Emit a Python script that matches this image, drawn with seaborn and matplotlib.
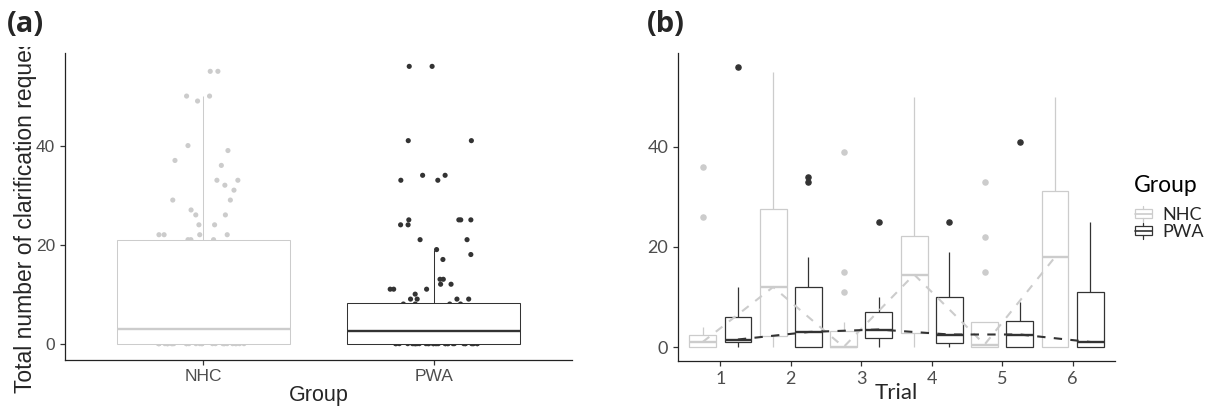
import numpy as np
import pandas as pd
import matplotlib
matplotlib.use("Agg")
import matplotlib.pyplot as plt
import seaborn as sns
from matplotlib.patches import Patch, Rectangle
from matplotlib.lines import Line2D
from matplotlib.legend_handler import HandlerBase
from matplotlib.transforms import Bbox, TransformedBbox

# ---- data -------------------------------------------------------------
groups = ["NHC", "PWA"]
trials = ["1", "2", "3", "4", "5", "6"]
group_colors = {"NHC": "#CCCCCC", "PWA": "#333333"}

# (a) clarification requests pooled over trials
nhc_total = ([0] * 28 + [1] * 7 + [2] * 7 + [3] * 9 +
             [4, 4, 5, 5, 6, 6, 7, 8, 8, 9, 10, 11, 12, 12, 13, 14, 15, 16, 17, 18, 19, 20] +
             [21, 21, 21, 22, 22, 22, 22, 24, 24, 26, 26, 27, 29, 29, 31, 32, 33, 33,
              36, 37, 39, 40, 49, 50, 50, 55, 55])
pwa_total = ([0] * 32 + [1] * 14 + [2] * 16 + [3] * 7 + [4] * 6 + [5] * 5 + [6] * 5 +
             [7] * 4 + [8] * 4 +
             [9, 9, 9, 9, 10, 11, 11, 11, 12, 12, 13, 13, 17, 18, 19, 21, 21, 24, 24,
              25, 25, 25, 25, 33, 33, 34, 34, 41, 41, 56, 56])

# (b) clarification requests per trial
nhc_trials = [
    [0, 0, 0, 0, 0, 0, 1, 1, 1, 1, 1, 2, 2, 2, 2, 4, 4, 4, 26, 36],
    [0, 0, 0, 0, 0, 3, 5, 7, 9, 11, 13, 16, 19, 22, 26, 32, 38, 44, 50, 55],
    [0, 0, 0, 0, 0, 0, 0, 0, 0, 0, 0, 1, 2, 3, 3, 4, 5, 11, 15, 39],
    [0, 0, 1, 2, 2, 3, 6, 9, 12, 14, 15, 17, 19, 21, 22, 23, 28, 35, 42, 50],
    [0, 0, 0, 0, 0, 0, 0, 0, 0, 0, 1, 1, 2, 3, 5, 5, 5, 15, 22, 33],
    [0, 0, 0, 0, 0, 0, 3, 7, 12, 17, 19, 22, 25, 28, 30, 35, 38, 42, 47, 50],
]
pwa_trials = [
    [0, 0, 0, 1, 1, 1, 1, 1, 1, 1, 2, 2, 3, 4, 6, 6, 8, 10, 12, 56],
    [0, 0, 0, 0, 0, 0, 1, 2, 2, 3, 3, 5, 7, 9, 12, 12, 15, 18, 33, 34],
    [0, 0, 1, 1, 1, 2, 2, 3, 3, 3, 4, 5, 5, 6, 7, 7, 8, 9, 10, 25],
    [0, 0, 0, 0, 0, 1, 1, 1, 2, 2, 3, 4, 6, 8, 10, 10, 13, 16, 19, 25],
    [0, 0, 0, 0, 0, 0, 1, 1, 2, 2, 3, 3, 4, 4, 5, 6, 7, 8, 9, 41],
    [0, 0, 0, 0, 0, 0, 0, 0, 1, 1, 1, 2, 4, 7, 11, 11, 14, 18, 21, 25],
]

# ---- tidy tables ------------------------------------------------------
df_a = pd.DataFrame({
    "Group": ["NHC"] * len(nhc_total) + ["PWA"] * len(pwa_total),
    "Total": nhc_total + pwa_total,
})
rows = []
for g, series in (("NHC", nhc_trials), ("PWA", pwa_trials)):
    for t, vals in zip(trials, series):
        rows += [(g, t, v) for v in vals]
df_b = pd.DataFrame(rows, columns=["Group", "Trial", "Count"])

# ---- style -----------------------------------------------------------
sns.set_style("ticks")
plt.rcParams["font.family"] = ["Liberation Sans", "DejaVu Sans"]
TICK_GREY = "#4D4D4D"
LATO = ["Lato", "DejaVu Sans"]
W, H = 1210, 407

fig = plt.figure(figsize=(W / 100, H / 100), dpi=100)
ax_a = fig.add_axes([65 / W, 1 - 359.5 / H, 507 / W, 306.5 / H])
ax_b = fig.add_axes([678 / W, 1 - 361 / H, 437 / W, 308 / H])

for ax in (ax_a, ax_b):
    for s in ("top", "right"):
        ax.spines[s].set_visible(False)
    for s in ("left", "bottom"):
        ax.spines[s].set_linewidth(0.9)
        ax.spines[s].set_color("#222222")
    ax.tick_params(length=3.5, width=0.9, color="#333333", labelcolor=TICK_GREY)

# ---- (a) pooled boxplots over jittered observations ------------------
np.random.seed(11)
sns.stripplot(data=df_a, x="Group", y="Total", hue="Group", order=groups,
              hue_order=groups, palette=group_colors, jitter=0.2, size=3.7,
              linewidth=0, legend=False, ax=ax_a)
for g in groups:
    sns.boxplot(data=df_a[df_a["Group"] == g], x="Group", y="Total", order=groups,
                color="white", linecolor=group_colors[g], width=0.75,
                showcaps=False, showfliers=False, linewidth=0.75,
                medianprops=dict(linewidth=1.7), ax=ax_a)
# opaque boxes sit above the points
for coll in ax_a.collections:
    coll.set_zorder(1)
for p in ax_a.patches:
    p.set_zorder(2)
for ln in ax_a.lines:
    ln.set_zorder(2.5)

ax_a.set_xlim(-0.6, 1.6)
ax_a.set_ylim(-3.2, 58.7)
ax_a.set_yticks([0, 20, 40])
for lab in ax_a.get_xticklabels() + ax_a.get_yticklabels():
    lab.set_fontsize(12.5)
ax_a.set_xlabel("Group", fontsize=15.5)
ax_a.xaxis.set_label_coords(0.5, -0.082)
ylab = ax_a.set_ylabel("Total number of clarification requests", fontsize=16.5)
ax_a.yaxis.set_label_coords(-0.056, 0.5)
ylab.set_clip_box(TransformedBbox(Bbox([[0, 0], [1, 1 - 47 / H]]), fig.transFigure))
ylab.set_clip_on(True)

# ---- (b) per-trial boxplots with median trend lines -----------------
for g in groups:
    c = group_colors[g]
    sns.boxplot(data=df_b[df_b["Group"] == g], x="Trial", y="Count", hue="Group",
                order=trials, hue_order=groups,
                palette={"NHC": "white", "PWA": "white"}, linecolor=c,
                width=1.0, gap=0.24, dodge=True, showcaps=False, linewidth=0.9,
                medianprops=dict(linewidth=1.7),
                flierprops=dict(marker="o", markersize=3.7, markerfacecolor=c,
                                markeredgecolor=c),
                legend=False, ax=ax_b)

offsets = {"NHC": -0.25, "PWA": 0.25}
for g in groups:
    med = (df_b[df_b["Group"] == g].groupby("Trial")["Count"].median()
           .reindex(trials))
    ax_b.plot(np.arange(len(trials)) + offsets[g], med.values,
              color=group_colors[g], lw=1.5, ls=(0, (4, 4)), zorder=5)

ax_b.set_xlim(-0.6, 5.6)
ax_b.set_ylim(-2.8, 58.8)
ax_b.set_yticks([0, 20, 40])
for lab in ax_b.get_xticklabels() + ax_b.get_yticklabels():
    lab.set_fontsize(13)
    lab.set_family(LATO)
ax_b.set_ylabel("")
ax_b.set_xlabel("Trial", fontsize=16, family=LATO)
ax_b.xaxis.set_label_coords(0.5, -0.072)


class BoxKey(HandlerBase):
    def create_artists(self, legend, orig_handle, xdescent, ydescent, width,
                       height, fontsize, trans):
        c = orig_handle.get_edgecolor()
        x0 = -xdescent + 0.06 * width
        x1 = -xdescent + 0.94 * width
        y0 = -ydescent + 0.2 * height
        y1 = -ydescent + 0.8 * height
        cx = -xdescent + width / 2
        ym = (y0 + y1) / 2
        box = Rectangle((x0, y0), x1 - x0, y1 - y0, facecolor="white",
                        edgecolor=c, lw=0.9, transform=trans)
        med = Line2D([x0, x1], [ym, ym], color=c, lw=1.2, transform=trans)
        top = Line2D([cx, cx], [y1, -ydescent + height], color=c, lw=0.9, transform=trans)
        bot = Line2D([cx, cx], [-ydescent, y0], color=c, lw=0.9, transform=trans)
        return [box, med, top, bot]


fig.text(1134 / W, 1 - 186 / H, "Group", fontsize=16.5, family=LATO,
         ha="left", va="center", color="black")
handles = [Patch(facecolor="white", edgecolor=group_colors[g], label=g) for g in groups]
leg = ax_b.legend(handles=handles, handler_map={Patch: BoxKey()},
                  loc="center left", bbox_to_anchor=(1134 / W, 1 - 223 / H),
                  bbox_transform=fig.transFigure, frameon=False,
                  prop={"family": LATO, "size": 13},
                  handlelength=1.05, handleheight=0.95, handletextpad=0.5,
                  labelspacing=0.0, borderpad=0, borderaxespad=0)

# ---- panel tags ------------------------------------------------------
for x, tag in ((7, "(a)"), (647, "(b)")):
    fig.text(x / W, 1 - 24 / H, tag, fontsize=21, fontweight="bold",
             family=["Open Sans", "DejaVu Sans"], va="center", ha="left")

fig.savefig("out.png", dpi=100)
